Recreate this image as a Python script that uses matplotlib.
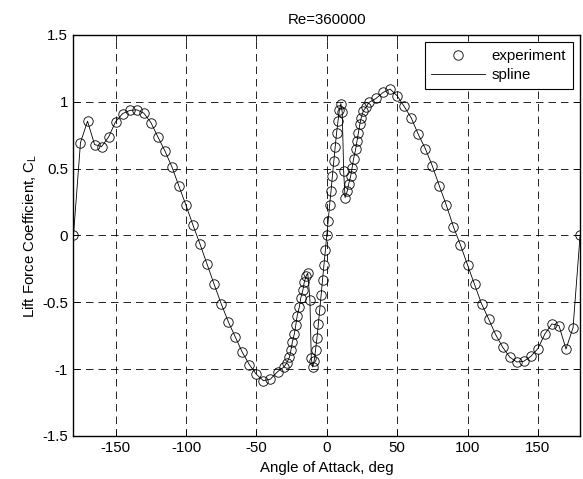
import numpy as np
from matplotlib import pyplot as plt

plt.rcParams['font.family'] = ['Liberation Sans', 'DejaVu Sans']
plt.rcParams['axes.unicode_minus'] = False

# angle of attack (deg) and lift coefficient
alpha = [-180, -175, -170, -165, -160, -155, -150, -145, -140, -135,
         -130, -125, -120, -115, -110, -105, -100, -95, -90, -85,
         -80, -75, -70, -65, -60, -55, -50, -45, -40, -35,
         -30.5, -28.5, -26.5, -25.5, -24.5, -23, -22, -21, -19.5, -18.5,
         -17, -16, -14.5, -13.5, -12, -11, -10, -9, -8, -7,
         -6, -5, -4, -3, -2, -1, 0,
         1, 2, 3, 4, 5, 6, 7, 8, 9, 10,
         11, 12, 13, 14.5, 15.5, 17, 18, 19, 20.5, 21.5,
         22.5, 23.5, 24.5, 26, 28, 30, 35, 40, 45, 50,
         55, 60, 65, 70, 75, 80, 85, 90, 95, 100,
         105, 110, 115, 120, 125, 130, 135, 140, 145, 150,
         155, 160, 165, 170, 175, 180]
cl = [0.0, 0.695, 0.855, 0.68, 0.665, 0.737, 0.852, 0.912, 0.935, 0.94,
      0.915, 0.845, 0.737, 0.632, 0.512, 0.367, 0.225, 0.075, -0.067, -0.217,
      -0.367, -0.512, -0.645, -0.76, -0.875, -0.967, -1.04, -1.087, -1.075, -1.02,
      -0.985, -0.955, -0.91, -0.86, -0.8, -0.735, -0.67, -0.6, -0.535, -0.47,
      -0.41, -0.35, -0.3, -0.283, -0.48, -0.92, -0.985, -0.94, -0.86, -0.77,
      -0.665, -0.555, -0.445, -0.33, -0.22, -0.11, 0.0,
      0.11, 0.225, 0.33, 0.445, 0.555, 0.665, 0.77, 0.857, 0.94, 0.987,
      0.92, 0.48, 0.283, 0.33, 0.382, 0.445, 0.507, 0.57, 0.645, 0.707,
      0.77, 0.832, 0.882, 0.932, 0.962, 0.995, 1.025, 1.07, 1.095, 1.045,
      0.965, 0.88, 0.757, 0.65, 0.52, 0.37, 0.225, 0.065, -0.072, -0.22,
      -0.367, -0.512, -0.625, -0.742, -0.837, -0.91, -0.947, -0.942, -0.905, -0.847,
      -0.737, -0.662, -0.675, -0.85, -0.69, 0.0]

xticks = [-150, -100, -50, 0, 50, 100, 150]
yticks = [-1.5, -1, -0.5, 0, 0.5, 1, 1.5]
yticklabels = ['-1.5', '-1', '-0.5', '0', '0.5', '1', '1.5']

fs = 10.8

fig = plt.figure(figsize=(5.83, 4.79), dpi=100)
ax = fig.add_axes([0.126, 0.09, 0.869, 0.837])

ax.plot(alpha, cl, 'o', mfc='none', mec='black', ms=6.8, mew=0.6, label='experiment')
ax.plot(alpha, cl, '-', color='black', lw=0.6, label='spline')

ax.set_xlim(-180, 180)
ax.set_ylim(-1.5, 1.5)
ax.set_xticks(xticks)
ax.set_yticks(yticks)
ax.set_yticklabels(yticklabels)
ax.tick_params(direction='in', top=True, right=True, labelsize=fs, length=4, width=0.6, pad=4)
ax.grid(True, color='black', linestyle=(0, (9, 6)), linewidth=0.6)
for s in ax.spines.values():
    s.set_linewidth(1.0)

ax.set_title('Re=360000', fontsize=fs, pad=8)
ax.set_xlabel('Angle of Attack, deg', fontsize=fs, labelpad=4)
ax.set_ylabel('Lift Force Coefficient, C$_\\mathregular{L}$', fontsize=fs, labelpad=2)

leg = ax.legend(loc='upper right', fontsize=fs, fancybox=False, framealpha=1,
                edgecolor='black', borderaxespad=0.5, handlelength=3.6,
                handletextpad=0.4, labelspacing=0.35, borderpad=0.45)
leg.get_frame().set_linewidth(0.8)

plt.savefig('out.png', dpi=100)
